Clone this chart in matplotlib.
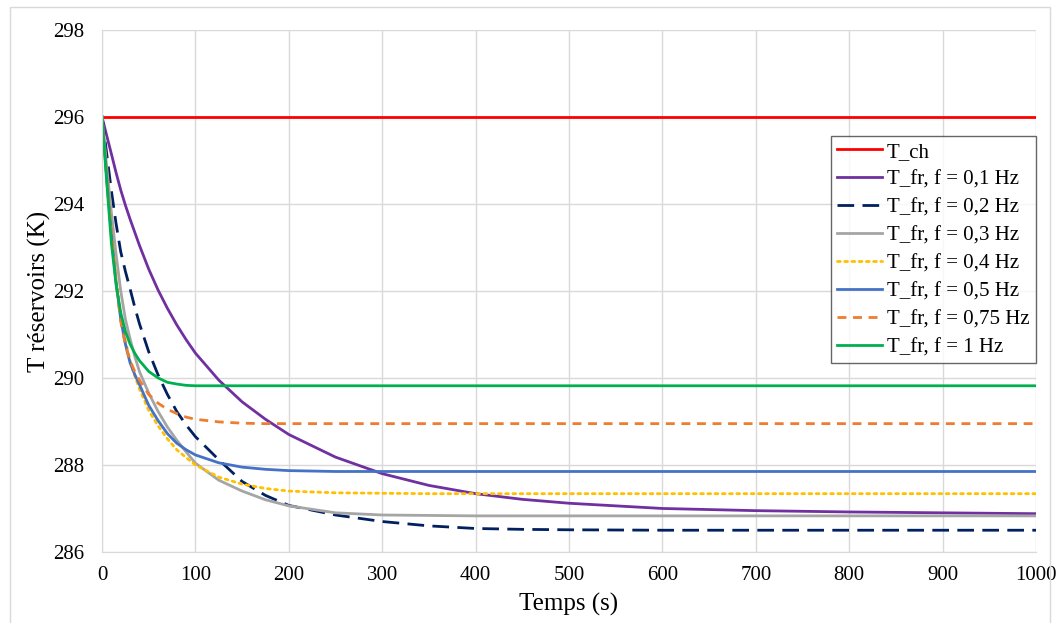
import matplotlib

matplotlib.use("Agg")
import matplotlib.pyplot as plt
from matplotlib.patches import Rectangle

# Time samples (s)
t = [0, 5, 10, 15, 20, 25, 30, 35, 40, 50, 60, 70, 80, 90, 100, 125, 150,
     175, 200, 250, 300, 350, 400, 450, 500, 600, 700, 800, 900, 1000]

# Reservoir temperatures (K)
T_ch = [296.0] * len(t)
T_f01 = [296.0, 295.57, 295.15, 294.72, 294.32, 293.97, 293.65, 293.35,
         293.05, 292.5, 292.02, 291.6, 291.22, 290.88, 290.57, 289.95,
         289.45, 289.05, 288.7, 288.18, 287.8, 287.53, 287.34, 287.21,
         287.12, 287.0, 286.95, 286.92, 286.9, 286.88]
T_f02 = [296.0, 295.15, 294.3, 293.55, 292.9, 292.45, 292.05, 291.63,
         291.25, 290.6, 290.07, 289.62, 289.23, 288.92, 288.65, 288.12,
         287.62, 287.3, 287.07, 286.85, 286.7, 286.6, 286.54, 286.52,
         286.51, 286.5, 286.5, 286.5, 286.5, 286.5]
T_f03 = [296.0, 294.85, 293.8, 292.85, 292.0, 291.35, 290.9, 290.5, 290.15,
         289.65, 289.23, 288.87, 288.57, 288.3, 288.04, 287.65, 287.4,
         287.2, 287.06, 286.9, 286.85, 286.84, 286.83, 286.83, 286.83,
         286.83, 286.83, 286.83, 286.83, 286.83]
T_f04 = [296.0, 294.65, 293.4, 292.3, 291.45, 290.85, 290.4, 290.05, 289.75,
         289.25, 288.9, 288.6, 288.35, 288.17, 288.0, 287.72, 287.56, 287.46,
         287.4, 287.36, 287.35, 287.34, 287.34, 287.34, 287.34, 287.34,
         287.34, 287.34, 287.34, 287.34]
T_f05 = [296.0, 294.6, 293.3, 292.2, 291.35, 290.78, 290.35, 290.08, 289.85,
         289.37, 289.02, 288.72, 288.5, 288.35, 288.23, 288.05, 287.95,
         287.9, 287.87, 287.85, 287.85, 287.85, 287.85, 287.85, 287.85,
         287.85, 287.85, 287.85, 287.85, 287.85]
T_f075 = [296.0, 294.6, 293.3, 292.2, 291.3, 290.75, 290.4, 290.15, 289.95,
          289.62, 289.42, 289.28, 289.18, 289.1, 289.05, 288.99, 288.96,
          288.95, 288.95, 288.95, 288.95, 288.95, 288.95, 288.95, 288.95,
          288.95, 288.95, 288.95, 288.95, 288.95]
T_f1 = [296.0, 294.5, 293.1, 292.15, 291.5, 291.07, 290.78, 290.57, 290.4,
        290.15, 290.0, 289.9, 289.86, 289.83, 289.82, 289.82, 289.82,
        289.82, 289.82, 289.82, 289.82, 289.82, 289.82, 289.82, 289.82,
        289.82, 289.82, 289.82, 289.82, 289.82]

plt.rcParams["font.family"] = ["Liberation Serif", "DejaVu Serif"]

fig = plt.figure(figsize=(10.63, 6.23), dpi=100)
ax = fig.add_axes([0.096, 0.114, 0.8786, 0.838])

# Excel-like chart border
fig.patches.append(
    Rectangle((10 / 1063, -0.01), 1040 / 1063, 1 - 7 / 623 + 0.01,
              transform=fig.transFigure, fill=False, edgecolor="#d9d9d9",
              linewidth=1.0)
)

lw = 2.0
ax.plot(t, T_ch, color="#FF0000", lw=lw, label="T_ch")
ax.plot(t, T_f01, color="#7030A0", lw=lw, label="T_fr, f = 0,1 Hz")
ax.plot(t, T_f02, color="#002060", lw=lw, dashes=(6, 3),
        label="T_fr, f = 0,2 Hz")
ax.plot(t, T_f03, color="#A5A5A5", lw=lw, label="T_fr, f = 0,3 Hz")
ax.plot(t, T_f04, color="#FFC000", lw=lw, dashes=(1, 1.6),
        dash_capstyle="round", label="T_fr, f = 0,4 Hz")
ax.plot(t, T_f05, color="#4472C4", lw=lw, label="T_fr, f = 0,5 Hz")
ax.plot(t, T_f075, color="#ED7D31", lw=lw, dashes=(3.2, 2.4),
        label="T_fr, f = 0,75 Hz")
ax.plot(t, T_f1, color="#00B050", lw=lw, label="T_fr, f = 1 Hz")

ax.set_xlim(0, 1000)
ax.set_ylim(286, 298)
ax.set_xticks(range(0, 1001, 100))
ax.set_yticks(range(286, 299, 2))
ax.grid(True, color="#d9d9d9", linewidth=1.0)
ax.set_axisbelow(True)
for side in ["top", "right", "bottom", "left"]:
    ax.spines[side].set_color("#d9d9d9")
ax.spines["top"].set_visible(False)
ax.spines["right"].set_visible(False)
ax.tick_params(length=0, labelsize=15)
ax.tick_params(axis="x", pad=10)
ax.tick_params(axis="y", pad=13)

ax.set_xlabel("Temps (s)", fontsize=18, labelpad=6)
ax.set_ylabel("T réservoirs (K)", fontsize=18, labelpad=1)

leg = ax.legend(loc="upper right", bbox_to_anchor=(1.0, 0.797),
                fontsize=15, frameon=True, fancybox=False,
                edgecolor="#404040", handlelength=2.15, handletextpad=0.25,
                labelspacing=0.4, borderpad=0.3, borderaxespad=0)
leg.get_frame().set_linewidth(1.0)

plt.savefig("out.png", dpi=100)
plt.close()
